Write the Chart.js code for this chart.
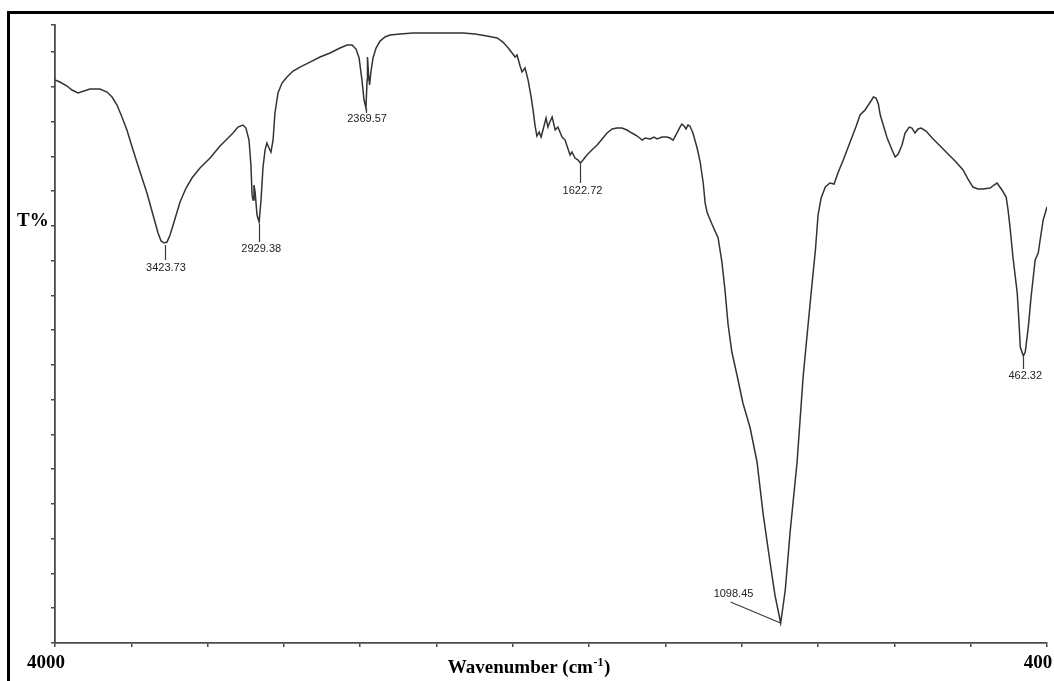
<!DOCTYPE html>
<html>
<head>
<meta charset="utf-8">
<script src="https://cdn.jsdelivr.net/npm/chart.js@4.4.1/dist/chart.umd.min.js"></script>
<style>
  html, body { margin: 0; padding: 0; background: #fff; }
  #c { display: block; }
</style>
</head>
<body>
<canvas id="c" width="1054" height="681"></canvas>
<script>
// ---- Data (wavenumber in cm-1, transmittance in arbitrary %T units) ----
const wavenumbers = [
  4000, 3974, 3937, 3911, 3879, 3848, 3817, 3764, 3727, 3701, 3675, 3649, 3623, 3591, 3554, 3518,
  3486, 3460, 3444, 3428, 3413, 3397, 3376, 3345, 3313, 3282, 3240, 3187, 3135, 3098, 3067, 3041,
  3015, 2999, 2983, 2973, 2967, 2962, 2957, 2951, 2941, 2930, 2920, 2910, 2899, 2889, 2878, 2868,
  2857, 2847, 2831, 2810, 2784, 2752, 2716, 2663, 2611, 2558, 2506, 2469, 2443, 2422, 2406, 2391,
  2380, 2370, 2364, 2362, 2356, 2351, 2344, 2333, 2317, 2296, 2270, 2244, 2191, 2123, 2034, 1965,
  1931, 1899, 1868, 1841, 1826, 1812, 1802, 1794, 1789, 1781, 1776, 1768, 1760, 1752, 1747, 1742,
  1737, 1731, 1726, 1721, 1713, 1708, 1703, 1697, 1689, 1682, 1671, 1663, 1658, 1650, 1645, 1637,
  1629, 1623, 1616, 1606, 1593, 1579, 1566, 1553, 1540, 1527, 1514, 1501, 1488, 1474, 1461, 1453,
  1440, 1430, 1422, 1409, 1396, 1388, 1380, 1370, 1362, 1357, 1351, 1346, 1341, 1336, 1328, 1317,
  1309, 1301, 1296, 1291, 1286, 1276, 1262, 1252, 1244, 1236, 1226, 1212, 1197, 1178, 1160, 1144,
  1126, 1113, 1098, 1086, 1073, 1055, 1039, 1020, 1007, 1000, 992, 981, 969, 958, 948, 934,
  921, 911, 900, 890, 877, 863, 855, 848, 842, 837, 819, 806, 798, 790, 780, 772,
  761, 754, 746, 738, 730, 717, 701, 680, 662, 641, 620, 607, 594, 581, 568, 549,
  539, 531, 518, 507, 502, 497, 489, 478, 473, 470, 462, 457, 449, 442, 431, 423,
  418, 410, 400
];
const transmittance = [
  80.98, 80.70, 80.12, 79.55, 79.12, 79.40, 79.69, 79.69, 79.26, 78.54, 77.39, 75.66, 73.79, 70.91, 67.75, 64.73,
  61.57, 58.98, 57.83, 57.54, 57.68, 58.69, 60.56, 63.41, 65.45, 66.89, 68.33, 69.76, 71.49, 72.50, 73.36, 74.22,
  74.51, 74.08, 72.35, 68.76, 64.44, 63.72, 65.88, 64.87, 61.57, 60.56, 63.72, 68.33, 70.91, 71.92, 71.20, 70.63,
  72.35, 76.24, 79.12, 80.55, 81.42, 82.28, 82.85, 83.57, 84.29, 84.87, 85.59, 86.02, 86.02, 85.44, 84.15, 80.98,
  78.11, 76.96, 80.98, 84.29, 81.70, 80.27, 82.14, 84.15, 85.59, 86.59, 87.17, 87.46, 87.60, 87.75, 87.75, 87.75,
  87.75, 87.60, 87.31, 87.03, 86.45, 85.59, 84.87, 84.29, 84.58, 83.00, 82.14, 82.71, 80.98, 78.54, 76.67, 74.51,
  72.93, 73.50, 72.78, 73.79, 75.52, 74.22, 74.94, 75.66, 73.79, 74.22, 72.78, 72.35, 71.49, 70.19, 70.63, 69.76,
  69.48, 69.05, 69.48, 70.19, 70.91, 71.63, 72.50, 73.36, 73.94, 74.08, 74.08, 73.79, 73.36, 72.93, 72.35, 72.64,
  72.50, 72.78, 72.50, 72.78, 72.78, 72.64, 72.35, 73.36, 74.22, 74.65, 74.37, 73.94, 74.51, 74.37, 73.36, 71.20,
  69.19, 66.17, 63.29, 62.00, 61.28, 59.98, 58.26, 54.80, 50.78, 45.89, 41.86, 38.41, 34.52, 30.93, 26.04, 18.56,
  11.65, 6.90, 2.88, 7.62, 16.11, 26.04, 38.41, 49.34, 56.53, 61.57, 64.01, 65.59, 66.17, 66.02, 67.61, 69.48,
  71.35, 72.78, 74.37, 75.95, 76.67, 77.82, 78.54, 78.40, 77.53, 75.95, 72.64, 70.91, 69.91, 70.34, 71.63, 73.36,
  74.22, 74.08, 73.36, 73.94, 74.08, 73.65, 72.64, 71.49, 70.48, 69.33, 68.04, 66.74, 65.59, 65.30, 65.30, 65.45,
  65.88, 66.17, 65.16, 64.15, 62.28, 59.84, 55.38, 50.35, 45.74, 42.58, 41.28, 41.86, 45.45, 49.63, 55.09, 56.10,
  57.97, 60.85, 62.72
];

// Axis tick labels (only the ends are labelled)
const xTickValues = [4000, 400];
const xTickLabels = ['4000', '400'];

// Peak annotations
const peakWavenumbers  = [3423.73, 2929.38, 2369.57, 1622.72, 1098.45, 462.32];
const peakTransmittance = [57.54, 60.56, 76.96, 69.05, 2.88, 41.28];
const peakLabels = ['3423.73', '2929.38', '2369.57', '1622.72', '1098.45', '462.32'];

// ---- Custom FTIR axis: 4000 -> 2000 at half the expansion of 2000 -> 400 ----
const SPLIT = 2000, HI = 4000, LO = 400;
const SPAN = (HI - SPLIT) + 2 * (SPLIT - LO);
function wnToU(v) { return v >= SPLIT ? HI - v : (HI - SPLIT) + 2 * (SPLIT - v); }
function uToWn(u) { return u <= (HI - SPLIT) ? HI - u : SPLIT - (u - (HI - SPLIT)) / 2; }

class FtirScale extends Chart.LinearScale {
  getPixelForValue(value) {
    return this.getPixelForDecimal(wnToU(value) / SPAN);
  }
  getValueForPixel(pixel) {
    return uToWn(this.getDecimalForPixel(pixel) * SPAN);
  }
}
FtirScale.id = 'ftir';
FtirScale.defaults = {};
Chart.register(FtirScale);

const AXIS_COLOR = '#4a4a4a';
const SERIF = '"Liberation Serif", "Times New Roman", serif';

const decorPlugin = {
  id: 'decor',
  afterDraw(chart) {
    const ctx = chart.ctx;
    const xs = chart.scales.x, ys = chart.scales.y;
    ctx.save();

    // outer frame (left and top edges visible)
    ctx.strokeStyle = '#000';
    ctx.lineWidth = 3;
    ctx.beginPath();
    ctx.moveTo(8.5, 700);
    ctx.lineTo(8.5, 12.5);
    ctx.lineTo(1054, 12.5);
    ctx.stroke();

    // Y-axis title
    ctx.fillStyle = '#000';
    ctx.font = 'bold 19px ' + SERIF;
    ctx.textAlign = 'left';
    ctx.textBaseline = 'alphabetic';
    ctx.fillText('T%', 17, 226);

    // X tick labels at the ends
    ctx.textAlign = 'center';
    xTickValues.forEach((v, i) => {
      const px = xs.getPixelForValue(v);
      ctx.fillText(xTickLabels[i], px - 9, 668);
    });

    // X-axis title with superscript
    const main = 'Wavenumber (cm', sup = '-1', close = ')';
    ctx.font = 'bold 19px ' + SERIF;
    const wMain = ctx.measureText(main).width;
    const wClose = ctx.measureText(close).width;
    ctx.font = 'bold 12px ' + SERIF;
    const wSup = ctx.measureText(sup).width;
    let x0 = 528.5 - (wMain + wSup + wClose) / 2;
    ctx.textAlign = 'left';
    ctx.font = 'bold 19px ' + SERIF;
    ctx.fillText(main, x0, 673);
    ctx.font = 'bold 12px ' + SERIF;
    ctx.fillText(sup, x0 + wMain + 0.5, 666);
    ctx.font = 'bold 19px ' + SERIF;
    ctx.fillText(close, x0 + wMain + wSup + 1, 673);

    // Peak markers
    const leader = [
      { a: 2, b: 17, dy: 25, dx: 1 },
      { a: 2, b: 20, dy: 27, dx: 2 },
      { a: 0, b: 5,  dy: 11, dx: 1 },
      { a: 0, b: 20, dy: 28, dx: 2 },
      null,
      { a: 1, b: 13, dy: 20, dx: 2 }
    ];
    ctx.strokeStyle = '#3a3a3a';
    ctx.fillStyle = '#222';
    ctx.lineWidth = 1.2;
    ctx.font = '11px "Liberation Sans", Arial, sans-serif';
    ctx.textAlign = 'center';
    ctx.textBaseline = 'middle';
    peakWavenumbers.forEach((w, i) => {
      const px = xs.getPixelForValue(w);
      const py = ys.getPixelForValue(peakTransmittance[i]);
      const L = leader[i];
      ctx.beginPath();
      if (L) {
        ctx.moveTo(Math.round(px) + 0.5, py + L.a);
        ctx.lineTo(Math.round(px) + 0.5, py + L.b);
        ctx.stroke();
        ctx.fillText(peakLabels[i], px + L.dx, py + L.dy);
      } else {
        ctx.moveTo(px, py);
        ctx.lineTo(px - 50, py - 21);
        ctx.stroke();
        ctx.fillText(peakLabels[i], px - 47, py - 29);
      }
    });
    ctx.restore();
  }
};

const yTicks = [];
for (let t = 0; t <= 85; t += 5) yTicks.push(t);
const Y_MAX = 88.9;

new Chart(document.getElementById('c'), {
  type: 'line',
  data: {
    datasets: [{
      data: wavenumbers.map((w, i) => ({ x: w, y: transmittance[i] })),
      borderColor: '#333',
      borderWidth: 1.5,
      pointRadius: 0,
      tension: 0,
      fill: false
    }]
  },
  options: {
    responsive: false,
    animation: false,
    devicePixelRatio: 1,
    layout: { padding: { top: 25, right: 7, left: 0, bottom: 0 } },
    plugins: { legend: { display: false }, tooltip: { enabled: false }, title: { display: false } },
    scales: {
      x: {
        type: 'ftir',
        position: 'bottom',
        min: LO, max: HI,
        ticks: { display: false },
        grid: { drawOnChartArea: false, drawTicks: true, tickLength: 4, color: AXIS_COLOR, lineWidth: 1.5 },
        border: { display: true, color: AXIS_COLOR, width: 1.8 },
        afterBuildTicks: (s) => {
          const t = [];
          for (let k = 0; k <= 13; k++) t.push({ value: uToWn(k * SPAN / 13) });
          s.ticks = t;
        },
        afterFit: (s) => { s.height = 38; }
      },
      y: {
        type: 'linear',
        min: 0, max: Y_MAX,
        ticks: { display: false },
        grid: { drawOnChartArea: false, drawTicks: true, tickLength: 4, color: AXIS_COLOR, lineWidth: 1.5 },
        border: { display: true, color: AXIS_COLOR, width: 1.8 },
        afterBuildTicks: (s) => {
          s.ticks = yTicks.concat([Y_MAX]).map(v => ({ value: v }));
        },
        afterFit: (s) => { s.width = 55; }
      }
    }
  },
  plugins: [decorPlugin]
});
</script>
</body>
</html>
